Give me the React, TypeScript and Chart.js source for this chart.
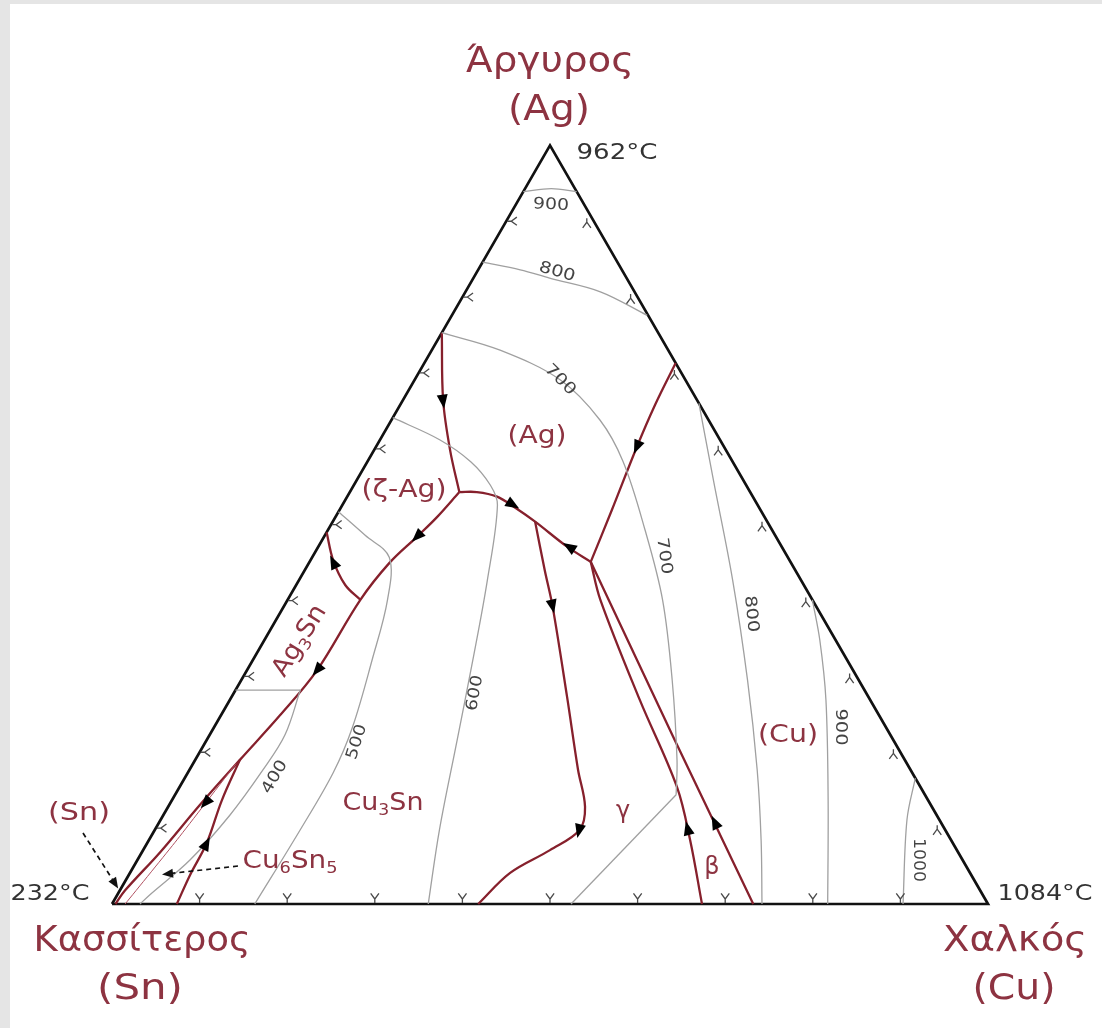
import React, { useEffect, useRef } from "react";
import { Chart, registerables } from "chart.js";

Chart.register(...registerables);

// ---------------- data (compositions as [Cu at.%, Ag at.%], Sn = remainder) ----------------
const elementNames = ["Κασσίτερος", "Χαλκός", "Άργυρος"];
const elementSymbols = ["(Sn)", "(Cu)", "(Ag)"];
const meltingPoints = ["232°C", "1084°C", "962°C"];
const tickPercents = [10, 20, 30, 40, 50, 60, 70, 80, 90];
const phaseLabels = ["(Ag)", "(ζ-Ag)", "Ag3Sn", "Cu3Sn", "Cu6Sn5", "(Sn)", "γ", "β", "(Cu)"];
const isothermLabels = ["900", "800", "700", "700", "800", "900", "1000", "600", "500", "400"];

const triangle = [[0, 0], [100, 0], [0, 100], [0, 0]];

// isotherms (°C)
const iso900Top = [[0, 93.9], [3.0, 94.3], [6.1, 93.9]];
const iso800Top = [[0, 84.6], [4.8, 83.6], [8.7, 82.5], [15.4, 80.7], [22.3, 77.6]];
const iso700 = [[0, 75.3], [7.8, 73.0], [16.6, 69.1], [23.8, 63.8], [29.2, 58.3], [36.2, 49.3], [42.8, 40.1], [49.2, 29.5], [55.0, 19.0], [57.2, 14.4]];
const iso700Gamma = [[57.2, 14.4], [52.4, 0]];
const iso600 = [[0, 64.1], [6.8, 61.2], [11.8, 58.3], [15.6, 55.2], [17.7, 52.6], [21.5, 42.7], [25.1, 32.2], [28.6, 21.6], [32.5, 9.75], [36.1, 0]];
const iso500 = [[0, 51.7], [4.6, 48.6], [8.8, 45.7], [11.4, 40.1], [13.6, 32.2], [15.8, 23.3], [16.6, 17.3], [16.6, 9.75], [16.3, 0]];
const iso400Ag3Sn = [[0, 28.2], [7.4, 28.2]];
const iso400 = [[7.4, 28.2], [8.6, 22.3], [8.4, 17.7], [7.6, 11.7], [6.0, 5.8], [3.7, 1.2], [3.2, 0]];
const iso800Right = [[34.0, 66.0], [40.7, 55.9], [49.5, 42.7], [57.8, 29.5], [64.8, 17.7], [69.9, 8.4], [74.2, 0]];
const iso900Right = [[59.9, 40.1], [63.4, 34.8], [68.05, 26.9], [74.9, 13.7], [81.7, 0]];
const iso1000 = [[83.4, 16.6], [85.2, 11.1], [90.3, 0]];

// monovariant (liquidus valley) lines
const valleyAgZeta = [[0, 75.3], [4.6, 66.4], [8.7, 59.8], [12.5, 54.3]];
const valleyAgGamma = [[12.5, 54.3], [14.5, 54.3], [17.1, 53.7], [19.8, 52.3], [23.1, 50.4], [28.4, 47.1], [32.1, 45.1]];
const valleyToSn = [[12.5, 54.3], [11.6, 51.0], [10.6, 48.4], [9.2, 45.0], [8.3, 40.1], [8.0, 30.8], [6.75, 24.9], [5.1, 19.0], [3.5, 13.05], [2.1, 6.9], [0.6, 1.8], [0.4, 0]];
const valleyAg3Sn = [[0, 49.0], [2.6, 45.3], [5.6, 42.05], [8.3, 40.1]];
const valleyCu6Sn5 = [[5.1, 19.0], [5.7, 13.7], [6.8, 8.0], [7.0, 3.8], [7.4, 0]];
const valleyCu3Sn = [[23.1, 50.4], [27.4, 44.0], [30.7, 39.2], [38.3, 27.3], [44.35, 17.7], [47.6, 12.8], [48.5, 9.75], [46.45, 7.1], [43.4, 4.1], [41.8, 0]];
const valleyAgCu = [[32.1, 45.1], [31.1, 51.9], [29.8, 60.2], [29.1, 65.8], [28.7, 71.3]];
const valleyGamma = [[32.1, 45.1], [35.7, 40.1], [46.8, 26.9], [56.8, 15.4], [61.8, 8.4], [67.35, 0]];
const valleyBeta = [[32.1, 45.1], [52.8, 22.3], [73.2, 0]];
const snBoundary = [[1.5, 0], [3.2, 8.5], [4.9, 18.5]];

// flow arrows: [curve, Cu, Ag, direction along curve]
const flowArrows: [string, number, number, number][] = [
  ["agZeta", 4.7, 66.2, 1],
  ["agGamma", 19.5, 52.6, 1],
  ["agGamma", 28.6, 47.1, -1],
  ["toSn", 10.6, 48.4, 1],
  ["toSn", 8.0, 30.8, 1],
  ["toSn", 4.0, 13.3, 1],
  ["ag3sn", 2.7, 45.1, -1],
  ["cu6sn5", 6.8, 8.0, -1],
  ["cu3sn", 30.7, 39.2, 1],
  ["cu3sn", 48.5, 9.6, 1],
  ["agCu", 29.8, 60.2, -1],
  ["gamma", 60.7, 10.0, -1],
  ["beta", 63.4, 10.8, -1],
];

// ---------------- helpers ----------------
const SQ = Math.sqrt(3) / 2;
const toXY = (p: number[]) => ({ x: (p[0] + p[1] / 2) / 100, y: (p[1] / 100) * SQ });

const OX = 10;
const OY = 4;
const W = 1092;
const H = 1024;
const UNIT = 876;
const SN_X = 102;
const SN_Y = 900;

const RED = "#86202c";
const RED_TXT = "#8d3341";
const GREY = "#a0a0a0";
const DARK = "#333333";
const FONT = '"DejaVu Sans", Verdana, sans-serif';

function parseRuns(label: string): [string, boolean][] {
  const runs: [string, boolean][] = [];
  const re = /(\d+)|(\D+)/g;
  let m: RegExpExecArray | null;
  while ((m = re.exec(label))) runs.push([m[0], !!m[1]]);
  return runs;
}

function drawText(ctx: CanvasRenderingContext2D, runs: [string, boolean][], px: number, py: number, size: number, width: number, color: string, rot = 0) {
  ctx.save();
  ctx.translate(px - OX, py - OY);
  ctx.rotate((rot * Math.PI) / 180);
  const fontFor = (sub: boolean) => `${sub ? Math.round(size * 0.62) : size}px ${FONT}`;
  const ws = runs.map(([t, sub]) => {
    ctx.font = fontFor(sub);
    return ctx.measureText(t).width;
  });
  const total = ws.reduce((a, b) => a + b, 0);
  const sx = width ? width / total : 1;
  ctx.scale(sx, 1);
  ctx.fillStyle = color;
  ctx.textBaseline = "middle";
  ctx.textAlign = "left";
  let x = -total / 2;
  runs.forEach(([t, sub], i) => {
    ctx.font = fontFor(sub);
    ctx.fillText(t, x, sub ? size * 0.3 : 0);
    x += ws[i];
  });
  ctx.restore();
}

const curves: Record<string, number[][]> = {
  agZeta: valleyAgZeta,
  agGamma: valleyAgGamma,
  toSn: valleyToSn,
  ag3sn: valleyAg3Sn,
  cu6sn5: valleyCu6Sn5,
  cu3sn: valleyCu3Sn,
  agCu: valleyAgCu,
  gamma: valleyGamma,
  beta: valleyBeta,
};

const overlay = {
  id: "overlay",
  afterDatasetsDraw(chart: any) {
    const ctx: CanvasRenderingContext2D = chart.ctx;
    const xs = chart.scales.x;
    const ys = chart.scales.y;
    const P = (cu: number, ag: number) => {
      const p = toXY([cu, ag]);
      return [xs.getPixelForValue(p.x), ys.getPixelForValue(p.y)];
    };

    // ---- ticks ----
    const drawTick = (vx: number, vy: number, dx: number, dy: number) => {
      const arm = 7;
      const a = (36 * Math.PI) / 180;
      const rot = (ang: number) => [dx * Math.cos(ang) - dy * Math.sin(ang), dx * Math.sin(ang) + dy * Math.cos(ang)];
      const r1 = rot(a);
      const r2 = rot(-a);
      ctx.beginPath();
      ctx.moveTo(vx - dx * 4, vy - dy * 4);
      ctx.lineTo(vx, vy);
      ctx.lineTo(vx + r1[0] * arm, vy + r1[1] * arm);
      ctx.moveTo(vx, vy);
      ctx.lineTo(vx + r2[0] * arm, vy + r2[1] * arm);
      ctx.stroke();
    };
    ctx.save();
    ctx.strokeStyle = "#4a4a4a";
    ctx.lineWidth = 1.3;
    tickPercents.forEach((p) => {
      const [bx, by] = P(p, 0);
      drawTick(bx, by - 5, 0, -1);
      const [lx, ly] = P(0, p);
      drawTick(lx + 5, ly, 1, 0);
      const [rx, ry] = P(100 - p, p);
      drawTick(rx - 7, ry + 1, 0, 1);
    });
    ctx.restore();

    // ---- flow arrows ----
    ctx.save();
    ctx.fillStyle = "#000";
    flowArrows.forEach(([name, cu, ag, dir]) => {
      const pts = curves[name].map((c) => P(c[0], c[1]));
      const [ax, ay] = P(cu, ag);
      let best = 0;
      let bestD = Infinity;
      for (let i = 0; i < pts.length - 1; i++) {
        const mx = (pts[i][0] + pts[i + 1][0]) / 2;
        const my = (pts[i][1] + pts[i + 1][1]) / 2;
        const d = Math.hypot(mx - ax, my - ay);
        if (d < bestD) {
          bestD = d;
          best = i;
        }
      }
      let ux = (pts[best + 1][0] - pts[best][0]) * dir;
      let uy = (pts[best + 1][1] - pts[best][1]) * dir;
      const len = Math.hypot(ux, uy) || 1;
      ux /= len;
      uy /= len;
      const nx = -uy;
      const ny = ux;
      ctx.beginPath();
      ctx.moveTo(ax + ux * 7, ay + uy * 7);
      ctx.lineTo(ax - ux * 7 + nx * 5.5, ay - uy * 7 + ny * 5.5);
      ctx.lineTo(ax - ux * 7 - nx * 5.5, ay - uy * 7 - ny * 5.5);
      ctx.closePath();
      ctx.fill();
    });
    ctx.restore();

    // ---- dashed pointer arrows ----
    const dashed = (x1: number, y1: number, x2: number, y2: number) => {
      ctx.save();
      ctx.strokeStyle = "#111";
      ctx.lineWidth = 1.7;
      ctx.setLineDash([5, 4]);
      ctx.beginPath();
      ctx.moveTo(x1 - OX, y1 - OY);
      ctx.lineTo(x2 - OX, y2 - OY);
      ctx.stroke();
      ctx.setLineDash([]);
      let ux = x2 - x1;
      let uy = y2 - y1;
      const l = Math.hypot(ux, uy);
      ux /= l;
      uy /= l;
      const tx = x2 - OX;
      const ty = y2 - OY;
      ctx.fillStyle = "#111";
      ctx.beginPath();
      ctx.moveTo(tx + ux * 4, ty + uy * 4);
      ctx.lineTo(tx - ux * 7 - uy * 4.5, ty - uy * 7 + ux * 4.5);
      ctx.lineTo(tx - ux * 7 + uy * 4.5, ty - uy * 7 - ux * 4.5);
      ctx.closePath();
      ctx.fill();
      ctx.restore();
    };
    dashed(83, 833, 116, 885);
    dashed(238, 866, 166, 874);

    // ---- element names ----
    drawText(ctx, [[elementNames[2], false]], 550, 63, 36, 168, RED_TXT);
    drawText(ctx, [[elementSymbols[2], false]], 549, 111, 36, 82, RED_TXT);
    drawText(ctx, [[elementNames[0], false]], 142, 942, 36, 217, RED_TXT);
    drawText(ctx, [[elementSymbols[0], false]], 140, 990, 36, 86, RED_TXT);
    drawText(ctx, [[elementNames[1], false]], 1015, 942, 36, 144, RED_TXT);
    drawText(ctx, [[elementSymbols[1], false]], 1014, 990, 36, 83, RED_TXT);

    // ---- melting points ----
    drawText(ctx, [[meltingPoints[2], false]], 617, 154, 21, 81, DARK);
    drawText(ctx, [[meltingPoints[0], false]], 50, 895, 21, 79, DARK);
    drawText(ctx, [[meltingPoints[1], false]], 1045, 895, 21, 95, DARK);

    // ---- phase fields ----
    const ph: [number, number, number, number, number][] = [
      [537, 436, 25, 59, 0],
      [404, 490, 25, 85, 0],
      [300, 641, 25, 80, -58],
      [383, 803, 25, 81, 0],
      [290, 861, 25, 95, 0],
      [79, 813, 25, 62, 0],
      [623, 812, 24, 0, 0],
      [712, 868, 24, 0, 0],
      [788, 735, 25, 60, 0],
    ];
    phaseLabels.forEach((t, i) => {
      const [x, y, s, w, r] = ph[i];
      drawText(ctx, parseRuns(t), x, y, s, w, RED_TXT, r);
    });

    // ---- isotherm labels ----
    const il: [number, number, number, number][] = [
      [551, 205, 36, 3],
      [557, 272, 37, 16],
      [560, 380, 37, 45],
      [664, 556, 37, 82],
      [751, 614, 37, 84],
      [840, 727, 37, 90],
      [918, 860, 44, 90],
      [475, 693, 36, -80],
      [357, 742, 36, -72],
      [275, 777, 36, -60],
    ];
    isothermLabels.forEach((t, i) => {
      const [x, y, w, r] = il[i];
      drawText(ctx, [[t, false]], x, y, 16, w, "#444", r);
    });
  },
};

export default function App() {
  const ref = useRef<HTMLCanvasElement | null>(null);
  useEffect(() => {
    if (!ref.current) return;
    const line = (pts: number[][], color: string, width: number, tension = 0.35) => ({
      data: pts.map(toXY),
      showLine: true,
      pointRadius: 0,
      borderColor: color,
      borderWidth: width,
      tension,
      fill: false,
    });
    const chart = new Chart(ref.current, {
      type: "scatter",
      data: {
        datasets: [
          line(iso900Top, GREY, 1.3),
          line(iso800Top, GREY, 1.3),
          line(iso700, GREY, 1.3),
          line(iso700Gamma, GREY, 1.3, 0),
          line(iso600, GREY, 1.3),
          line(iso500, GREY, 1.3),
          line(iso400Ag3Sn, GREY, 1.3, 0),
          line(iso400, GREY, 1.3),
          line(iso800Right, GREY, 1.3),
          line(iso900Right, GREY, 1.3),
          line(iso1000, GREY, 1.3),
          line(snBoundary, "#b05060", 1, 0.2),
          line(valleyAgZeta, RED, 2.3),
          line(valleyAgGamma, RED, 2.3),
          line(valleyToSn, RED, 2.3),
          line(valleyAg3Sn, RED, 2.3),
          line(valleyCu6Sn5, RED, 2.3),
          line(valleyCu3Sn, RED, 2.3),
          line(valleyAgCu, RED, 2.3),
          line(valleyGamma, RED, 2.3),
          line(valleyBeta, RED, 2.3, 0),
          line(triangle, "#111", 2.7, 0),
        ] as any,
      },
      options: {
        responsive: false,
        maintainAspectRatio: false,
        animation: false,
        events: [],
        layout: { padding: 0 },
        plugins: { legend: { display: false }, tooltip: { enabled: false } },
        scales: {
          x: { type: "linear", display: false, min: -SN_X / UNIT, max: (W - SN_X) / UNIT },
          y: { type: "linear", display: false, min: -(H - SN_Y) / UNIT, max: SN_Y / UNIT },
        },
      },
      plugins: [overlay],
    });
    return () => chart.destroy();
  }, []);

  return (
    <div style={{ position: "absolute", left: 0, top: 0, width: 1102, height: 1028, background: "#e5e5e5", overflow: "hidden" }}>
      <canvas
        ref={ref}
        width={W}
        height={H}
        style={{ position: "absolute", left: OX, top: OY, width: W, height: H, background: "#ffffff" }}
      />
    </div>
  );
}
